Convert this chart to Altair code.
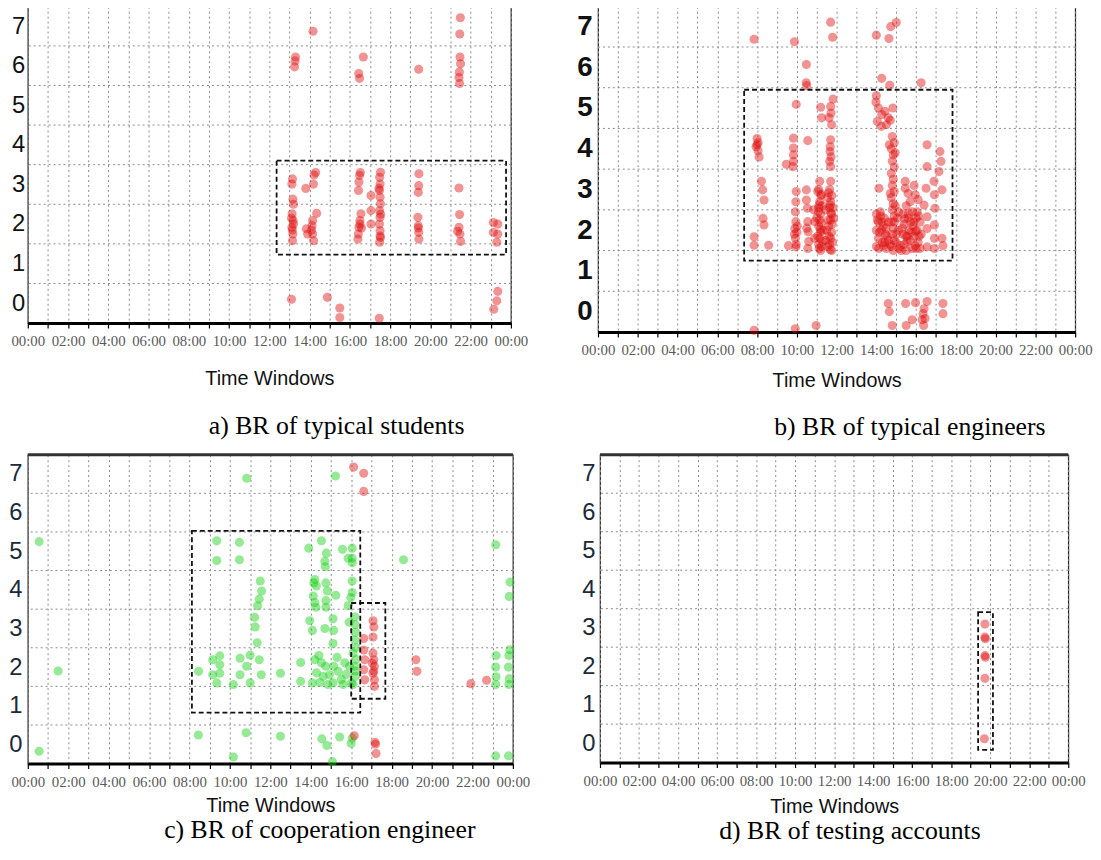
import altair as alt
import pandas as pd

# ---------------- data ----------------
HOURS = list(range(25))
Y_LABELS = list(range(8))
H_GRID = [0.5, 1.5, 2.5, 3.5, 4.5, 5.5, 6.5]
TOP_EDGE = [7.5]

# a) typical students
A_HOUR = [14.17, 13.30, 13.28, 13.25, 16.67, 16.44, 16.48, 19.42, 21.49, 21.46,
          21.47, 21.50, 21.44, 21.42, 21.45,
          13.15, 13.12, 13.17, 13.20, 13.13, 13.18, 13.12, 13.17, 13.15, 13.20, 13.10, 13.14,
          13.81, 14.22, 14.19, 14.30, 14.35, 14.15, 14.12, 14.15, 14.20, 14.10, 13.84, 13.90,
          16.48, 16.52, 16.45, 16.43, 16.55, 16.50, 16.45, 16.42, 16.50, 16.58, 16.40,
          17.05, 17.05, 17.05,
          17.52, 17.48, 17.50, 17.47, 17.50, 17.52, 17.48, 17.50, 17.47, 17.50, 17.52, 17.48,
          17.45, 17.53, 17.50,
          19.43, 19.42, 19.40, 19.38, 19.40, 19.42, 19.43, 19.40,
          21.42, 21.45, 21.42, 21.47, 21.50, 21.35,
          23.13, 23.35, 23.13, 23.35, 23.30,
          13.10, 14.88, 15.50, 15.50, 17.46, 23.35, 23.30, 23.15]
A_VALUE = [6.87, 6.22, 6.12, 5.97, 6.22, 5.80, 5.68, 5.91, 7.21, 6.80,
           6.22, 6.05, 5.84, 5.70, 5.55,
           3.14, 3.01, 2.63, 2.50, 2.26, 2.09, 1.92, 1.75, 1.58, 2.00, 2.15, 1.85,
           2.90, 3.24, 3.01, 3.30, 2.27, 2.09, 1.96, 1.75, 1.58, 1.85, 1.88, 1.75,
           3.23, 3.30, 3.06, 2.85, 2.26, 2.09, 1.92, 1.75, 2.00, 1.90, 1.62,
           2.72, 2.34, 2.00,
           3.31, 3.18, 3.01, 2.85, 2.68, 2.51, 2.34, 2.17, 2.00, 1.83, 1.66, 1.54,
           2.90, 2.25, 1.70,
           3.27, 2.97, 2.80, 2.17, 1.96, 1.79, 1.62, 1.90,
           2.91, 2.24, 1.92, 1.75, 1.56, 1.82,
           2.04, 2.00, 1.79, 1.75, 1.54,
           0.10, 0.15, -0.12, -0.36, -0.38, 0.30, 0.06, -0.15]

# b) typical engineers
B_HOUR = [7.85, 9.88, 11.70, 11.80, 14.00, 14.63, 14.72, 15.00, 10.48, 10.47, 10.50,
          14.27, 14.67, 16.25,
          14.00, 13.98, 14.10, 14.27, 14.43, 14.05, 14.60, 14.83, 14.50, 14.70, 14.25,
          9.97, 11.20, 11.25, 11.70, 11.72, 11.62, 11.75, 11.82,
          8.00, 8.05, 7.95, 8.05, 8.10, 8.00,
          9.83, 9.83, 9.83, 9.83, 9.80, 9.47, 10.55,
          11.70, 11.68, 11.67, 11.65, 11.70, 11.72,
          8.22, 8.28, 8.35, 8.30, 8.35, 7.85, 7.85, 8.58,
          9.97, 9.95, 9.93, 9.95, 9.90, 10.00, 9.93, 9.97, 9.95, 10.02, 9.88, 9.58,
          10.48, 10.48, 10.53, 10.55, 10.57, 10.60, 10.55, 10.50, 10.90, 10.90, 10.85,
          11.15, 11.10, 11.20, 11.15, 11.10, 11.20, 11.15, 11.10, 11.20, 11.15, 11.10, 11.20,
          11.25, 11.05, 11.30, 11.30, 11.00,
          11.70, 11.65, 11.75, 11.70, 11.65, 11.75, 11.70, 11.60, 11.75, 11.70, 11.65, 11.75,
          11.55, 11.80, 11.50, 11.55, 11.85, 11.45, 11.45,
          14.80, 14.90, 14.75, 14.85, 14.80, 14.90, 14.75, 14.85, 14.80, 14.90, 14.75, 14.85,
          14.80, 14.90, 14.75, 14.85, 14.80, 14.90, 14.75, 14.85, 14.65, 14.95, 14.70, 14.95,
          14.13,
          14.00, 14.10, 14.00, 14.10, 14.00, 14.20, 14.25, 14.30, 14.40, 14.45, 14.50, 14.35,
          15.05, 15.10, 15.00, 15.15, 14.60, 14.60,
          15.45, 15.45, 15.90, 15.95, 15.60, 15.70, 16.10, 15.50,
          15.35, 15.40, 15.35, 15.40, 15.50, 15.60, 15.65, 15.70, 15.80, 15.85, 15.90, 15.80,
          16.00, 16.05, 16.10, 16.20, 16.25, 16.20, 15.55, 16.00,
          16.50, 16.90, 16.92, 16.95, 17.30, 16.55, 16.55, 17.20, 17.25, 17.15,
          16.55, 16.55, 16.55, 16.92, 16.92, 16.92, 17.30, 17.35, 16.40,
          14.60, 14.65, 15.47, 15.97, 16.55, 17.35, 16.40, 16.45, 16.38, 16.30, 17.35,
          14.80, 15.50, 15.80, 7.85, 9.92, 10.97, 16.35]
B_VALUE = [6.69, 6.63, 7.11, 6.74, 6.79, 6.71, 7.00, 7.10, 6.07, 5.62, 5.55,
           5.73, 5.56, 5.62,
           5.30, 5.15, 5.00, 4.84, 4.92, 4.67, 4.76, 5.00, 4.59, 4.70, 4.55,
           5.09, 5.02, 4.76, 5.04, 4.88, 4.76, 4.59, 5.22,
           4.25, 4.15, 4.05, 3.95, 3.80, 4.10,
           4.26, 4.02, 3.85, 3.69, 3.56, 3.62, 4.20,
           4.22, 4.05, 3.93, 3.69, 3.56, 3.80,
           3.20, 2.99, 2.74, 2.29, 2.13, 1.84, 1.63, 1.63,
           2.95, 2.70, 2.45, 2.21, 2.04, 1.95, 1.80, 1.65, 1.59, 2.10, 1.90, 1.62,
           2.99, 2.74, 2.54, 2.21, 1.96, 1.72, 1.55, 2.05, 2.21, 1.80, 2.50,
           3.20, 3.00, 2.85, 2.70, 2.55, 2.40, 2.25, 2.10, 1.95, 1.80, 1.65, 1.50,
           1.60, 1.85, 2.00, 2.60, 2.30,
           3.20, 3.00, 2.85, 2.70, 2.55, 2.40, 2.25, 2.10, 1.95, 1.80, 1.65, 1.50,
           1.60, 1.70, 2.00, 2.80, 2.30, 1.75, 2.50,
           4.30, 4.15, 4.00, 3.85, 3.70, 3.55, 3.40, 3.25, 3.10, 2.95, 2.80, 2.65,
           2.50, 2.35, 2.20, 2.05, 1.90, 1.75, 1.60, 1.50, 4.10, 3.90, 2.90, 2.60,
           3.03,
           2.40, 2.20, 2.00, 1.80, 1.60, 2.45, 2.00, 1.70, 2.30, 1.90, 1.55, 2.10,
           2.30, 2.00, 1.70, 1.55, 2.20, 1.75,
           3.20, 3.03, 3.10, 2.87, 2.90, 2.70, 2.75, 2.60,
           2.40, 2.15, 1.90, 1.65, 1.50, 2.30, 2.00, 1.75, 2.45, 2.10, 1.85, 1.55,
           2.30, 2.00, 1.70, 2.20, 1.90, 1.55, 1.85, 1.55,
           3.03, 3.20, 2.87, 2.54, 2.99, 4.10, 3.56, 3.93, 3.69, 3.44,
           2.33, 2.04, 1.59, 2.13, 1.80, 1.55, 1.80, 1.62, 2.62,
           0.20, 0.00, 0.20, 0.22, 0.25, 0.20, 0.07, -0.17, -0.34, -0.20, -0.05,
           -0.34, -0.34, -0.20, -0.46, -0.42, -0.34, -0.05]
# extra points inside the saturated blobs of panel b
B_DENSE_HOUR = [11.05, 11.12, 11.22, 11.28, 11.08, 11.18, 11.25, 11.12,
                11.60, 11.68, 11.78, 11.62, 11.72, 11.82, 11.58, 11.68,
                14.05, 14.15, 14.22, 14.35, 14.48, 14.55, 14.12, 14.28, 14.42,
                15.02, 15.12, 15.20, 15.30, 15.42, 15.55, 15.62, 15.75, 15.88, 15.95,
                16.05, 16.15, 15.25, 15.48, 15.72, 15.98, 16.12, 14.90, 14.70]
B_DENSE_VALUE = [2.95, 2.62, 2.18, 1.72, 2.45, 2.02, 2.88, 1.55,
                 2.92, 2.62, 2.15, 1.85, 2.42, 2.55, 2.25, 1.52,
                 2.25, 1.95, 2.35, 1.62, 2.05, 1.85, 1.55, 2.20, 1.70,
                 1.90, 2.45, 1.62, 2.05, 2.28, 1.72, 2.40, 1.95, 2.20, 1.62,
                 2.45, 1.85, 1.50, 1.85, 2.20, 1.98, 2.35, 2.20, 1.65]

# c) cooperation engineer (green = regular, red = anomalous)
C_GREEN_HOUR = [10.83, 15.22, 0.56, 1.50, 0.56,
                9.35, 9.35, 10.47, 10.47, 13.90, 14.53, 14.77, 14.70, 14.72,
                15.57, 16.05, 16.05, 15.85, 16.05, 18.59, 23.15,
                11.50, 11.57, 11.45, 11.37,
                14.20, 14.28, 14.12, 14.20, 14.25, 14.15,
                14.75, 14.82, 14.75, 14.75, 15.24,
                16.05, 16.05, 15.98, 15.85,
                11.22, 11.25, 11.35, 13.95, 14.08, 14.70, 15.10, 15.13, 15.10, 15.90,
                16.18, 16.20, 16.22, 16.18, 16.25, 23.86, 23.82,
                8.45, 9.15, 9.15, 9.35, 9.50, 9.50, 9.50, 10.17, 10.50, 10.50, 11.00, 11.00,
                10.83, 11.45, 11.55, 12.50, 13.50, 13.50,
                14.20, 14.28, 14.08, 14.53, 14.61, 14.74, 14.93, 15.13, 15.10, 15.35, 15.51,
                15.68, 15.76, 15.92, 16.01, 16.09, 16.17, 16.22, 16.09, 14.40, 14.45, 14.85,
                15.30, 15.60, 16.25, 16.20,
                23.17, 23.15, 23.17, 23.15, 23.80, 23.78, 23.82, 23.80, 23.85,
                8.44, 10.80, 12.50, 10.17, 14.55, 14.80, 15.43, 15.07, 16.05, 16.00,
                23.15, 23.78]
C_GREEN_VALUE = [6.89, 6.95, 5.25, 1.90, -0.18,
                 5.27, 4.76, 5.23, 4.78, 5.08, 5.27, 4.95, 4.74, 4.60,
                 5.05, 5.08, 4.82, 4.82, 4.70, 4.78, 5.17,
                 4.23, 3.97, 3.76, 3.59,
                 4.27, 4.10, 3.84, 3.67, 3.55, 4.18,
                 4.18, 3.97, 3.72, 3.55, 3.86,
                 4.23, 3.93, 3.80, 3.59,
                 3.29, 3.04, 2.63, 3.20, 2.95, 3.00, 3.25, 2.95, 2.61, 3.16,
                 3.30, 3.10, 2.90, 2.70, 2.50, 4.20, 3.83,
                 1.89, 2.19, 1.80, 1.59, 2.29, 2.06, 1.84, 1.55, 2.23, 1.80, 2.31, 1.59,
                 2.02, 2.19, 1.80, 1.84, 2.12, 1.63,
                 2.19, 1.85, 1.59, 2.11, 1.76, 2.02, 1.80, 2.02, 1.59, 1.89, 1.68,
                 2.11, 1.81, 2.02, 1.59, 2.36, 2.02, 1.76, 1.55, 2.30, 1.60, 1.55,
                 2.25, 1.55, 2.20, 1.90,
                 2.30, 2.00, 1.75, 1.55, 2.30, 2.00, 1.70, 1.55, 2.45,
                 0.24, 0.30, 0.21, -0.33, 0.14, -0.03, 0.19, -0.45, 0.16, 0.02,
                 -0.30, -0.30]
C_RED_HOUR = [16.12, 16.62, 16.62, 16.62, 16.62, 16.67, 16.62, 16.67,
              17.08, 17.12, 17.08, 17.08, 17.12, 17.15, 17.08, 17.15, 17.15, 17.05, 17.12,
              19.20, 19.25, 21.92, 22.70, 16.15, 17.20, 17.23, 17.18]
C_RED_VALUE = [7.18, 7.02, 6.55, 2.74, 2.44, 2.19, 1.93, 1.67,
               3.20, 3.04, 2.78, 2.36, 2.19, 2.02, 1.84, 1.67, 1.50, 2.10, 1.90,
               2.19, 1.89, 1.57, 1.66, 0.22, 0.00, -0.24, 0.05]

# d) testing accounts
D_HOUR = [19.73, 19.73, 19.75, 19.73, 19.75, 19.73, 19.70]
D_VALUE = [3.10, 2.76, 2.72, 2.28, 2.24, 1.69, 0.12]

# dashed boxes: [hour start, hour end, value low, value high]
RECT_A = [[12.36, 23.76, 1.23, 3.60]]
RECT_B = [[7.35, 17.83, 1.25, 5.45]]
RECT_C = [[8.12, 16.45, 0.82, 5.53], [16.00, 17.69, 1.18, 3.66]]
RECT_D = [[19.38, 20.14, -0.17, 3.41]]

CAPTIONS = ["a) BR of typical students", "b) BR of typical engineers",
            "c) BR of cooperation engineer", "d) BR of testing accounts"]

# ---------------- style ----------------
SANS = "Liberation Sans, Arial, sans-serif"
SERIF = "Liberation Serif, Times New Roman, serif"
RED = "#e01010"
GREEN = "#16d016"

X_SCALE = alt.Scale(domain=[0, 24], nice=False, zero=False)
Y_SCALE = alt.Scale(domain=[-0.5, 7.5], nice=False, zero=False)
LABEL_EXPR = ("datum.value % 2 == 0 ? ((datum.value % 24 < 10 ? '0' : '') + "
              "(datum.value % 24) + ':00') : ''")


def panel(points, rects, width, height, caption, cap_dx, cap_offset,
          title_pad, ylab_size, ylab_color, ylab_weight, ylab_pad, top_thick):
    xaxis = alt.Axis(values=HOURS, labelExpr=LABEL_EXPR, grid=True, gridDash=[2, 3],
                     gridColor="#8a8a8a", gridWidth=1, tickSize=5, tickColor="#000",
                     tickWidth=1.2, domainColor="#000", domainWidth=3,
                     labelFont=SERIF, labelFontSize=15, labelColor="#5a5a5a",
                     labelPadding=6, labelOverlap=False, labelFlush=False,
                     title="Time Windows", titleFont=SANS, titleFontSize=20,
                     titleFontWeight="normal", titleColor="#111",
                     titlePadding=title_pad, minExtent=0)
    yaxis = alt.Axis(values=Y_LABELS, grid=False, ticks=False, domain=False,
                     labelFont=SANS, labelFontSize=ylab_size, labelColor=ylab_color,
                     labelFontWeight=ylab_weight, labelPadding=ylab_pad,
                     labelBaseline="middle", title=None, minExtent=0)

    grid = alt.Chart(pd.DataFrame({"g": H_GRID})).mark_rule(
        color="#8a8a8a", strokeDash=[2, 3], strokeWidth=1
    ).encode(y=alt.Y("g:Q", scale=Y_SCALE, axis=yaxis))

    pts = alt.Chart(points).mark_circle(size=85, opacity=0.45).encode(
        x=alt.X("hour:Q", scale=X_SCALE, axis=xaxis),
        y=alt.Y("value:Q", scale=Y_SCALE, axis=yaxis),
        color=alt.Color("group:N",
                        scale=alt.Scale(domain=["regular", "anomalous"],
                                        range=[GREEN, RED]),
                        legend=None),
    )

    rdf = pd.DataFrame(rects, columns=["x1", "x2", "y1", "y2"])
    box = alt.Chart(rdf).mark_rect(
        fill="transparent", stroke="#111", strokeDash=[5, 3], strokeWidth=1.8
    ).encode(
        x=alt.X("x1:Q", scale=X_SCALE, axis=xaxis), x2="x2:Q",
        y=alt.Y("y1:Q", scale=Y_SCALE, axis=yaxis), y2="y2:Q",
    )

    layers = [grid, pts, box]
    if top_thick:
        top = alt.Chart(pd.DataFrame({"t": TOP_EDGE})).mark_rule(
            color="#333", strokeWidth=3
        ).encode(y=alt.Y("t:Q", scale=Y_SCALE, axis=yaxis))
        layers.append(top)

    return alt.layer(*layers).properties(
        width=width, height=height,
        title=alt.TitleParams(caption, orient="bottom", anchor="middle", frame="group",
                              dx=cap_dx, offset=cap_offset, font=SERIF, fontSize=26,
                              fontWeight="normal", color="#000"),
    )


df_a = pd.DataFrame({"hour": A_HOUR, "value": A_VALUE, "group": "anomalous"})
df_b = pd.DataFrame({"hour": B_HOUR + B_DENSE_HOUR, "value": B_VALUE + B_DENSE_VALUE,
                     "group": "anomalous"})
df_c = pd.concat([
    pd.DataFrame({"hour": C_GREEN_HOUR, "value": C_GREEN_VALUE, "group": "regular"}),
    pd.DataFrame({"hour": C_RED_HOUR, "value": C_RED_VALUE, "group": "anomalous"}),
], ignore_index=True)
df_d = pd.DataFrame({"hour": D_HOUR, "value": D_VALUE, "group": "anomalous"})

pa = panel(df_a, RECT_A, 488, 320, CAPTIONS[0], 68, 25, 20, 24, "#111", "normal", 3, False)
pb = panel(df_b, RECT_B, 482, 329, CAPTIONS[1], 74, 24, 13, 28, "#111", "bold", 6, False)
pc = panel(df_c, RECT_C, 490, 312, CAPTIONS[2], 50, 2, 6, 24, "#1b2a3a", "normal", 6, True)
pd_ = panel(df_d, RECT_D, 473, 311, CAPTIONS[3], 16, 2, 8, 24, "#1b2a3a", "normal", 5, True)

row1 = alt.hconcat(pa, pb, spacing=47)
row2 = alt.hconcat(pc, pd_, spacing=51)

chart = alt.vconcat(row1, row2, spacing=11).properties(
    padding={"left": 0, "top": -7, "right": 0, "bottom": 0},
    background="white",
).configure_view(stroke="#222", strokeWidth=1.2)

chart.save("out.html", embed_options={"renderer": "svg", "actions": False})
